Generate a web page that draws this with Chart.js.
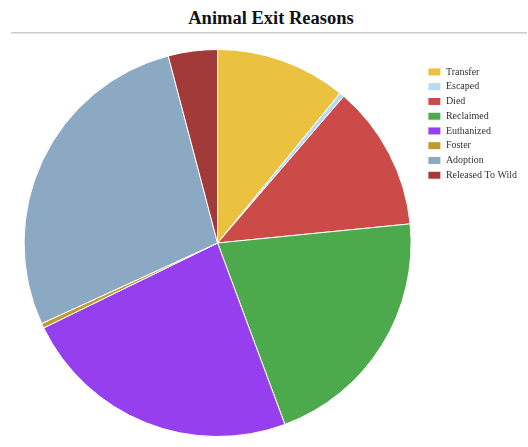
<!DOCTYPE html>
<html>
<head>
<meta charset="utf-8">
<script src="https://cdn.jsdelivr.net/npm/chart.js@4"></script>
<style>
body{margin:0;background:#fff;font-family:"Liberation Serif",serif;}
h2{margin:0;position:absolute;top:8px;left:7px;width:528px;text-align:center;font-size:18.5px;font-weight:bold;color:#111;}
hr{position:absolute;top:32px;left:11px;width:516px;margin:0;border:0;border-top:1px solid #ccc;border-bottom:1px solid #e2e2e2;}
#wrap{position:absolute;left:0;top:40px;width:528px;height:407px;}
</style>
</head>
<body>
<h2>Animal Exit Reasons</h2>
<hr>
<div id="wrap"><canvas id="exitChart"></canvas></div>
<script>

// EXIT REASONS

const reasons = ["Transfer","Escaped","Died","Reclaimed","Euthanized","Foster","Adoption","Released To Wild"];
const counts = [109,4,121,209,234,4,277,41];
const colors = ["#ebc23f","#b6dbf5","#cc4a48","#4caa4c","#953fef","#c29a2a","#8ba9c3","#a33a3a"];

Chart.defaults.font.family = "'Liberation Serif', serif";

const ctx = document.getElementById("exitChart");

new Chart(ctx,{

type:"pie",

data:{
labels:reasons,
datasets:[{
data:counts,
backgroundColor:colors,
borderColor:"#fff",
borderWidth:1
}]
},

options:{
responsive:true,
maintainAspectRatio:false,
animation:false,
layout:{padding:{top:9,bottom:10,left:12,right:1}},
plugins:{
title:{display:false},
tooltip:{enabled:false},
legend:{
position:"right",
align:"start",
title:{display:true,text:" ",padding:0,font:{size:11}},
labels:{
boxWidth:13,
boxHeight:8,
padding:4.75,
color:"#333",
font:{size:10}
}
}
}
}

});

</script>
</body>
</html>
